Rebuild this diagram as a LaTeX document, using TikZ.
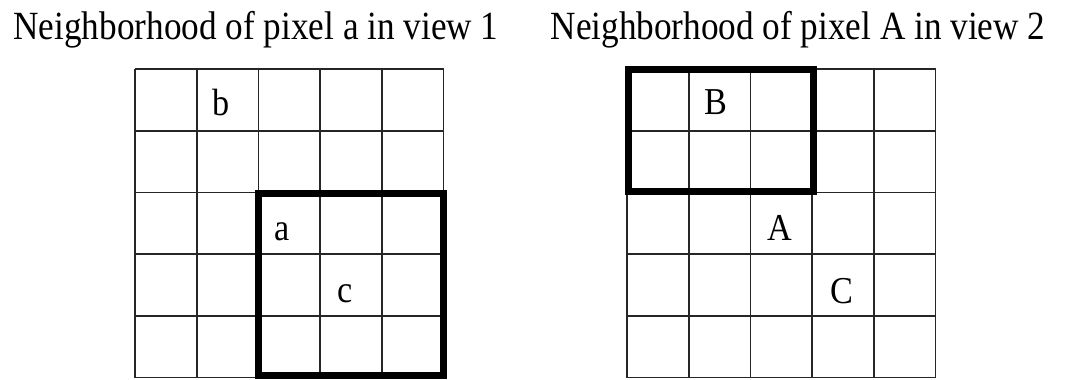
\documentclass[tikz,border=0pt]{standalone}
\usepackage{fontspec}
\setmainfont{Liberation Serif}
\begin{document}
\begin{tikzpicture}[x=1pt,y=-1pt,
  gridline/.style={line width=1.8pt, black!85},
  thickbox/.style={line width=7pt, black},
  title/.style={font=\fontsize{40}{44}\selectfont, anchor=base, inner sep=0pt, xscale=0.88},
  lbl/.style={font=\fontsize{38}{42}\selectfont, anchor=base, inner sep=0pt, xscale=0.9}]
\useasboundingbox (0,0) rectangle (1076,380);
% titles
\node[title] (t1) at (256,39) {Neighborhood of pixel a in view 1};
\node[title] (t2) at (798,39) {Neighborhood of pixel A in view 2};
% grid 1
\foreach \i in {0,...,5} {
  \draw[gridline] (135+\i*61.7,69) -- (135+\i*61.7,377.5);
  \draw[gridline] (135,69+\i*61.7) -- (443.5,69+\i*61.7);
}
% grid 2
\foreach \i in {0,...,5} {
  \draw[gridline] (627+\i*61.7,69) -- (627+\i*61.7,377.5);
  \draw[gridline] (627,69+\i*61.7) -- (935.5,69+\i*61.7);
}
% thick windows
\draw[thickbox] (258.5,193) rectangle (443,375);
\draw[thickbox] (628,69.5) rectangle (813,191.5);
% labels
\node[lbl] (b) at (221,115) {b};
\node[lbl] (a) at (282,240) {a};
\node[lbl] (c) at (345,302) {c};
\node[lbl] (B) at (716,114) {B};
\node[lbl] (A) at (780,240) {A};
\node[lbl] (C) at (842,303) {C};
\end{tikzpicture}
\end{document}
